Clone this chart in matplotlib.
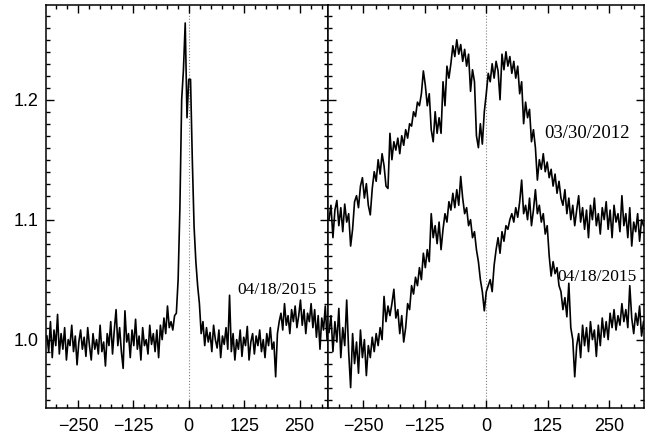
import numpy as np
import matplotlib.pyplot as plt
from matplotlib.ticker import MultipleLocator

# velocity grids (km/s)
v_left = np.arange(-320, 316, 4)
v_right = np.arange(-320, 321, 4)

# left panel, 04/18/2015, narrow line
flux_left = [
    1.003, 0.990, 1.015, 0.985, 1.008, 0.995, 1.021, 0.988, 1.005, 0.992,
    1.010, 0.983, 1.000, 0.995, 1.012, 0.990, 1.003, 0.979, 0.998, 1.008,
    0.992, 1.002, 0.986, 1.010, 0.995, 0.983, 1.005, 0.992, 1.000, 0.988,
    1.012, 0.990, 0.998, 0.978, 1.005, 0.995, 1.015, 0.988, 1.008, 1.025,
    0.995, 1.010, 0.990, 0.976, 1.024, 0.998, 1.005, 0.985, 1.008, 0.995,
    1.017, 0.992, 1.003, 0.983, 1.010, 0.995, 1.000, 0.988, 1.012, 0.996,
    1.005, 0.990, 1.008, 0.985, 1.012, 1.000, 1.018, 1.005, 1.028, 1.010,
    1.015, 1.008, 1.020, 1.022, 1.050, 1.110, 1.200, 1.225, 1.264, 1.185,
    1.217, 1.217, 1.150, 1.094, 1.065, 1.045, 1.030, 1.005, 1.015, 0.995,
    1.010, 0.998, 1.006, 0.990, 1.012, 1.000, 0.993, 1.008, 0.985, 1.003,
    0.996, 1.010, 0.992, 1.037, 0.990, 1.005, 0.983, 1.000, 0.992, 1.008,
    0.986, 1.002, 0.995, 1.011, 0.983, 0.998, 1.005, 0.988, 1.003, 0.995,
    1.008, 0.990, 1.000, 0.985, 1.005, 0.995, 1.010, 0.992, 0.998, 0.969,
    1.005, 1.015, 1.022, 1.008, 1.030, 1.012, 1.020, 1.005, 1.025, 1.015,
    1.028, 1.010, 1.020, 1.033, 1.012, 1.025, 1.005, 1.022, 1.015, 1.030,
    1.010, 1.025, 1.002, 1.020, 0.992, 1.018, 1.008, 1.028, 1.000,
]

# right panel, 03/30/2012 (upper) and 04/18/2015 (lower), broad line
flux_2012 = [
    1.100, 1.112, 1.085, 1.108, 1.116, 1.095, 1.110, 1.090, 1.113, 1.098,
    1.105, 1.078, 1.092, 1.115, 1.120, 1.110, 1.128, 1.135, 1.118, 1.130,
    1.112, 1.104, 1.126, 1.140, 1.132, 1.150, 1.138, 1.155, 1.145, 1.128,
    1.126, 1.172, 1.150, 1.165, 1.158, 1.168, 1.155, 1.170, 1.162, 1.175,
    1.168, 1.180, 1.178, 1.190, 1.186, 1.198, 1.195, 1.205, 1.224, 1.212,
    1.195, 1.205, 1.175, 1.165, 1.190, 1.172, 1.185, 1.172, 1.215, 1.195,
    1.228, 1.218, 1.230, 1.245, 1.236, 1.250, 1.238, 1.246, 1.232, 1.242,
    1.228, 1.238, 1.207, 1.225, 1.215, 1.170, 1.160, 1.180, 1.163, 1.190,
    1.205, 1.222, 1.215, 1.230, 1.218, 1.232, 1.224, 1.200, 1.238, 1.225,
    1.240, 1.228, 1.236, 1.222, 1.232, 1.218, 1.228, 1.205, 1.215, 1.180,
    1.198, 1.185, 1.192, 1.165, 1.175, 1.160, 1.133, 1.150, 1.142, 1.155,
    1.140, 1.148, 1.135, 1.142, 1.128, 1.138, 1.122, 1.132, 1.118, 1.112,
    1.125, 1.105, 1.118, 1.100, 1.112, 1.095, 1.108, 1.120, 1.098, 1.110,
    1.092, 1.108, 1.085, 1.112, 1.100, 1.118, 1.095, 1.105, 1.088, 1.110,
    1.100, 1.115, 1.092, 1.108, 1.085, 1.112, 1.098, 1.105, 1.090, 1.120,
    1.095, 1.105, 1.085, 1.110, 1.078, 1.098, 1.090, 1.105, 1.082, 1.100,
    1.095,
]

flux_2015 = [
    1.006, 1.020, 0.990, 1.015, 0.998, 1.026, 0.985, 1.010, 0.995, 1.033,
    0.990, 0.960, 1.005, 0.980, 0.998, 0.972, 1.008, 0.985, 1.000, 0.970,
    0.995, 0.985, 1.002, 0.990, 1.005, 0.995, 1.010, 1.000, 1.036, 1.015,
    1.028, 1.020, 1.030, 1.042, 1.018, 1.025, 1.005, 1.020, 0.998, 1.010,
    1.030, 1.025, 1.045, 1.038, 1.052, 1.045, 1.060, 1.050, 1.072, 1.060,
    1.075, 1.065, 1.105, 1.085, 1.095, 1.080, 1.098, 1.075, 1.092, 1.105,
    1.098, 1.115, 1.108, 1.122, 1.110, 1.125, 1.112, 1.136, 1.118, 1.105,
    1.110, 1.095, 1.100, 1.085, 1.090, 1.075, 1.065, 1.050, 1.040, 1.024,
    1.040, 1.045, 1.050, 1.040, 1.062, 1.075, 1.085, 1.072, 1.090, 1.082,
    1.095, 1.092, 1.100, 1.105, 1.098, 1.110, 1.102, 1.115, 1.133, 1.105,
    1.112, 1.100, 1.118, 1.095, 1.108, 1.125, 1.105, 1.112, 1.098, 1.105,
    1.088, 1.095, 1.070, 1.053, 1.065, 1.055, 1.060, 1.045, 1.040, 1.025,
    1.035, 1.019, 1.047, 1.010, 1.000, 0.969, 0.995, 1.005, 0.985, 1.012,
    0.995, 1.010, 0.990, 1.015, 1.000, 1.008, 0.986, 1.012, 0.995, 1.018,
    1.002, 1.015, 1.000, 1.022, 1.010, 1.025, 1.008, 1.020, 1.012, 1.030,
    1.015, 1.025, 1.010, 1.045, 1.018, 1.005, 1.022, 1.012, 1.028, 1.003,
    1.015,
]

xticks = [-250, -125, 0, 125, 250]
yticks = [1.0, 1.1, 1.2]

plt.rcParams['font.family'] = ['Liberation Sans Narrow', 'Liberation Sans', 'DejaVu Sans']

fig = plt.figure(figsize=(6.62, 4.37), dpi=100)
ax1 = fig.add_axes([0.0702, 0.0664, 0.4252, 0.9222])
ax2 = fig.add_axes([0.4955, 0.0664, 0.4766, 0.9222], sharey=ax1)

ax1.plot(v_left, flux_left, color='black', lw=1.2)
ax2.plot(v_right, flux_2012, color='black', lw=1.2)
ax2.plot(v_right, flux_2015, color='black', lw=1.2)

for ax in (ax1, ax2):
    ax.axvline(0, color='gray', ls=':', lw=0.8, zorder=0)
    ax.set_xticks(xticks)
    ax.set_xticklabels([str(t).replace('-', '\u2212') for t in xticks])
    ax.xaxis.set_minor_locator(MultipleLocator(25))
    ax.yaxis.set_minor_locator(MultipleLocator(0.01))
    ax.tick_params(which='both', direction='in', top=True, right=True,
                   labelsize=13, width=1.0)
    ax.tick_params(which='major', length=6)
    ax.tick_params(which='minor', length=3)
    ax.tick_params(axis='x', which='major', pad=7)
    ax.tick_params(axis='y', which='major', pad=6)
    for s in ax.spines.values():
        s.set_linewidth(1.1)

ax1.set_xlim(-321, 314)
ax2.set_xlim(-322, 320)
ax1.set_ylim(0.943, 1.279)
ax1.set_yticks(yticks)
ax1.set_yticklabels(['1.0', '1.1', '1.2'])
ax2.tick_params(labelleft=False)

serif = ['Liberation Serif', 'DejaVu Serif']
ax1.text(109, 1.041, '04/18/2015', fontsize=12.5, family=serif, va='center')
ax2.text(117, 1.172, '03/30/2012', fontsize=13.5, family=serif, va='center')
ax2.text(144, 1.052, '04/18/2015', fontsize=12.5, family=serif, va='center')

fig.savefig('out.png', dpi=100)
